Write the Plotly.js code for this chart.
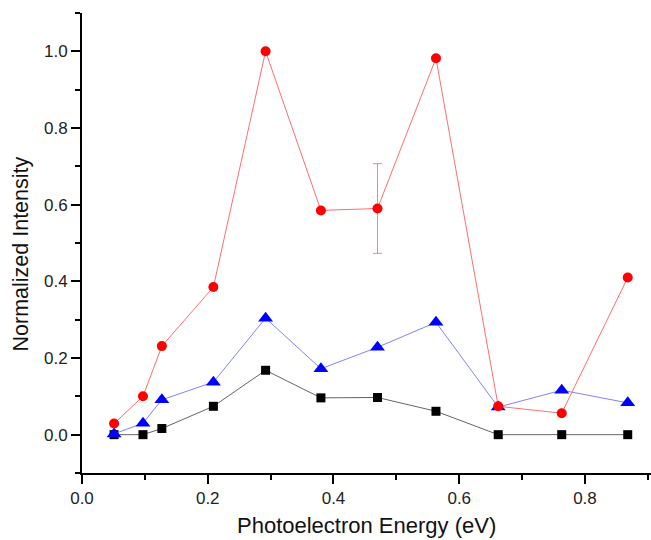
<!DOCTYPE html>
<html>
<head>
<meta charset="utf-8">
<script src="https://cdn.plot.ly/plotly-3.0.1.min.js"></script>
<style>
html,body{margin:0;padding:0;background:#fff;}
#chart{width:651px;height:540px;}
</style>
</head>
<body>
<div id="chart"></div>
<script>
// Photoelectron energies (eV)
const energy = [0.051, 0.097, 0.127, 0.209, 0.292, 0.380, 0.470, 0.563, 0.662, 0.763, 0.868];
// Red circles
const redSeries = [0.029, 0.100, 0.231, 0.385, 1.000, 0.585, 0.590, 0.982, 0.074, 0.056, 0.410];
// Error bar on red series (only at 0.47 eV)
const redError = [null, null, null, null, null, null, 0.117, null, null, null, null];
// Blue triangles
const blueSeries = [0.002, 0.030, 0.091, 0.137, 0.304, 0.172, 0.228, 0.293, 0.072, 0.116, 0.083];
// Black squares
const blackSeries = [0.000, 0.000, 0.016, 0.074, 0.168, 0.096, 0.097, 0.061, 0.000, 0.000, 0.000];

const yTicks = [0.0, 0.2, 0.4, 0.6, 0.8, 1.0];
const yTickLabels = ["0.0", "0.2", "0.4", "0.6", "0.8", "1.0"];
const xTicks = [0.0, 0.2, 0.4, 0.6, 0.8];
const xTickLabels = ["0.0", "0.2", "0.4", "0.6", "0.8"];
const xTitle = 'Photoelectron Energy (eV)';
const yTitle = 'Normalized Intensity';

const W = 651, H = 540;
const M = {l: 82, r: 0, t: 13, b: 67};
const pw = W - M.l - M.r, ph = H - M.t - M.b;
function px2paperX(px) { return (px - M.l) / pw; }
function px2paperY(py) { return (H - M.b - py) / ph; }

const traces = [
  {
    x: energy, y: blackSeries, type: 'scatter', mode: 'lines+markers',
    line: {color: 'rgb(100,100,100)', width: 1},
    marker: {symbol: 'square', size: 9, color: '#000000'},
    showlegend: false
  },
  {
    x: energy, y: blueSeries, type: 'scatter', mode: 'lines+markers',
    line: {color: 'rgb(130,130,255)', width: 1},
    marker: {symbol: 'triangle-up', size: 13, color: '#0000ff'},
    showlegend: false
  },
  {
    x: energy, y: redSeries, type: 'scatter', mode: 'lines+markers',
    line: {color: 'rgb(255,110,110)', width: 1},
    marker: {symbol: 'circle', size: 10, color: '#ff0000'},
    error_y: {type: 'data', array: redError, visible: true, color: 'rgb(255,130,130)', thickness: 1, width: 4.5},
    showlegend: false
  }
];

const layout = {
  width: W, height: H,
  margin: M,
  paper_bgcolor: '#ffffff', plot_bgcolor: '#ffffff',
  font: {family: 'Arial, "Liberation Sans", sans-serif', color: '#222'},
  xaxis: {
    range: [0, 0.905],
    tickmode: 'array', tickvals: xTicks, ticktext: xTickLabels,
    ticks: 'outside', ticklen: 9, tickwidth: 2, tickcolor: '#000',
    minor: {dtick: 0.1, tick0: 0, ticks: 'outside', ticklen: 5, tickwidth: 2, tickcolor: '#000', showgrid: false},
    showline: true, linecolor: '#000', linewidth: 2,
    showgrid: false, zeroline: false,
    tickfont: {size: 17, color: '#222'}
  },
  yaxis: {
    range: [-0.1, 1.1],
    tickmode: 'array', tickvals: yTicks, ticktext: yTickLabels,
    ticks: 'outside', ticklen: 9, tickwidth: 2, tickcolor: '#000',
    minor: {dtick: 0.1, tick0: -0.1, ticks: 'outside', ticklen: 5, tickwidth: 2, tickcolor: '#000', showgrid: false},
    showline: true, linecolor: '#000', linewidth: 2,
    showgrid: false, zeroline: false,
    tickfont: {size: 17, color: '#222'}
  },
  annotations: [
    {
      text: xTitle, xref: 'paper', yref: 'paper',
      x: px2paperX(366), y: px2paperY(525.5), xanchor: 'center', yanchor: 'middle',
      showarrow: false, font: {size: 22, color: '#111'}
    },
    {
      text: yTitle, xref: 'paper', yref: 'paper', textangle: -90,
      x: px2paperX(20.5), y: px2paperY(254), xanchor: 'center', yanchor: 'middle',
      showarrow: false, font: {size: 21.5, color: '#111'}
    }
  ]
};

Plotly.newPlot('chart', traces, layout, {displayModeBar: false, staticPlot: true});
</script>
</body>
</html>
